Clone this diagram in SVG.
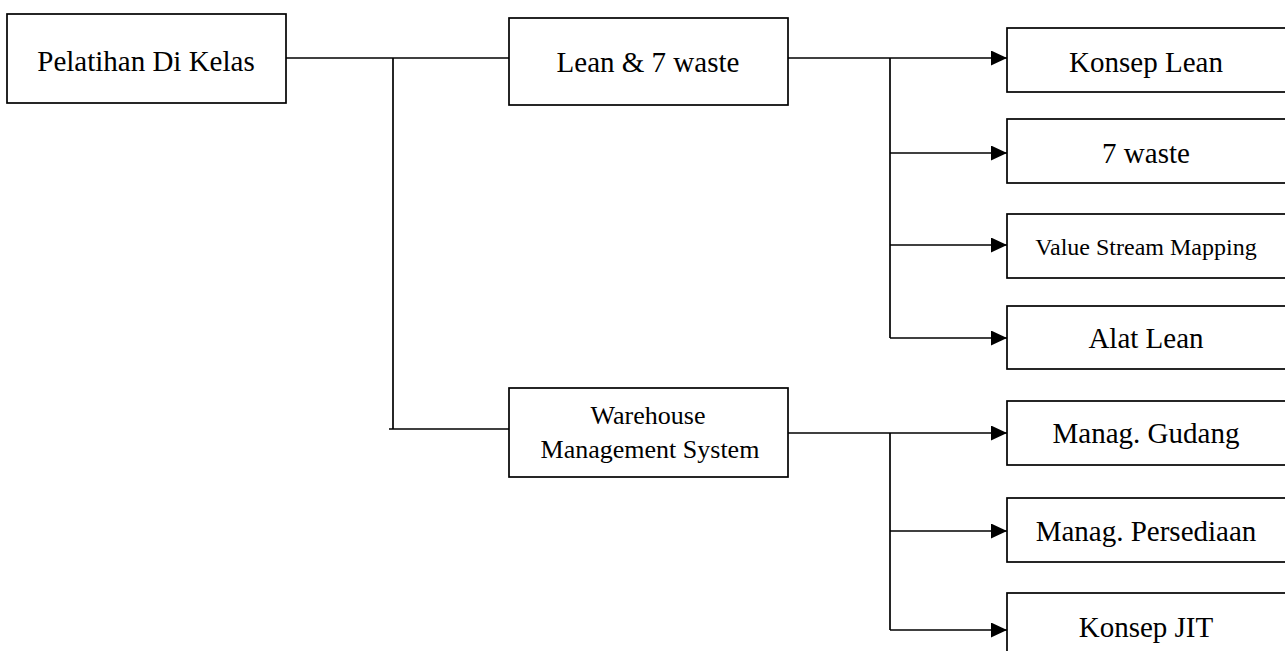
<svg xmlns="http://www.w3.org/2000/svg" width="1285" height="651" viewBox="0 0 1285 651">
  <style>
    .box { fill: #ffffff; stroke: #000000; stroke-width: 1.7; }
    .ln { fill: none; stroke: #000000; stroke-width: 1.7; }
    .t { font-family: "Liberation Serif", "Times New Roman", serif; fill: #000000; text-anchor: middle; }
    .big { font-size: 29px; }
    .mid { font-size: 26px; }
    .sm { font-size: 24px; }
  </style>
  <defs>
    <marker id="arr" markerWidth="16" markerHeight="15" refX="16" refY="7.5" orient="auto" markerUnits="userSpaceOnUse">
      <path d="M0,0 L16,7.5 L0,15 z" fill="#000000"/>
    </marker>
  </defs>
  <rect width="1285" height="651" fill="#ffffff"/>

  <g id="connectors">
    <path class="ln" d="M286,58 H509"/>
    <path class="ln" d="M393,58 V429"/>
    <path class="ln" d="M389,429 H509"/>
    <path class="ln" d="M788,58 H1007" marker-end="url(#arr)"/>
    <path class="ln" d="M890,58 V338"/>
    <path class="ln" d="M890,153 H1007" marker-end="url(#arr)"/>
    <path class="ln" d="M890,245 H1007" marker-end="url(#arr)"/>
    <path class="ln" d="M890,338 H1007" marker-end="url(#arr)"/>
    <path class="ln" d="M788,433 H1007" marker-end="url(#arr)"/>
    <path class="ln" d="M890,433 V630"/>
    <path class="ln" d="M890,531 H1007" marker-end="url(#arr)"/>
    <path class="ln" d="M890,630 H1007" marker-end="url(#arr)"/>
  </g>

  <g id="node-pelatihan">
    <rect class="box" x="7" y="14" width="279" height="89"/>
    <text class="t big" x="146" y="71">Pelatihan Di Kelas</text>
  </g>
  <g id="node-lean">
    <rect class="box" x="509" y="18" width="279" height="87"/>
    <text class="t big" x="648" y="72">Lean &amp; 7 waste</text>
  </g>
  <g id="node-wms">
    <rect class="box" x="509" y="388" width="279" height="89"/>
    <text class="t mid" x="648" y="424">Warehouse</text>
    <text class="t mid" x="650" y="458">Management System</text>
  </g>
  <g id="node-konsep-lean">
    <rect class="box" x="1007" y="28" width="300" height="64"/>
    <text class="t big" x="1146" y="72">Konsep Lean</text>
  </g>
  <g id="node-7waste">
    <rect class="box" x="1007" y="119" width="300" height="64"/>
    <text class="t big" x="1146" y="163">7 waste</text>
  </g>
  <g id="node-vsm">
    <rect class="box" x="1007" y="214" width="300" height="64"/>
    <text class="t sm" x="1146" y="255">Value Stream Mapping</text>
  </g>
  <g id="node-alat-lean">
    <rect class="box" x="1007" y="306" width="300" height="63"/>
    <text class="t big" x="1146" y="348">Alat Lean</text>
  </g>
  <g id="node-gudang">
    <rect class="box" x="1007" y="401" width="300" height="64"/>
    <text class="t big" x="1146" y="443">Manag. Gudang</text>
  </g>
  <g id="node-persediaan">
    <rect class="box" x="1007" y="498" width="300" height="64"/>
    <text class="t big" x="1146" y="541">Manag. Persediaan</text>
  </g>
  <g id="node-jit">
    <rect class="box" x="1007" y="593" width="300" height="80"/>
    <text class="t big" x="1146" y="637">Konsep JIT</text>
  </g>
</svg>
